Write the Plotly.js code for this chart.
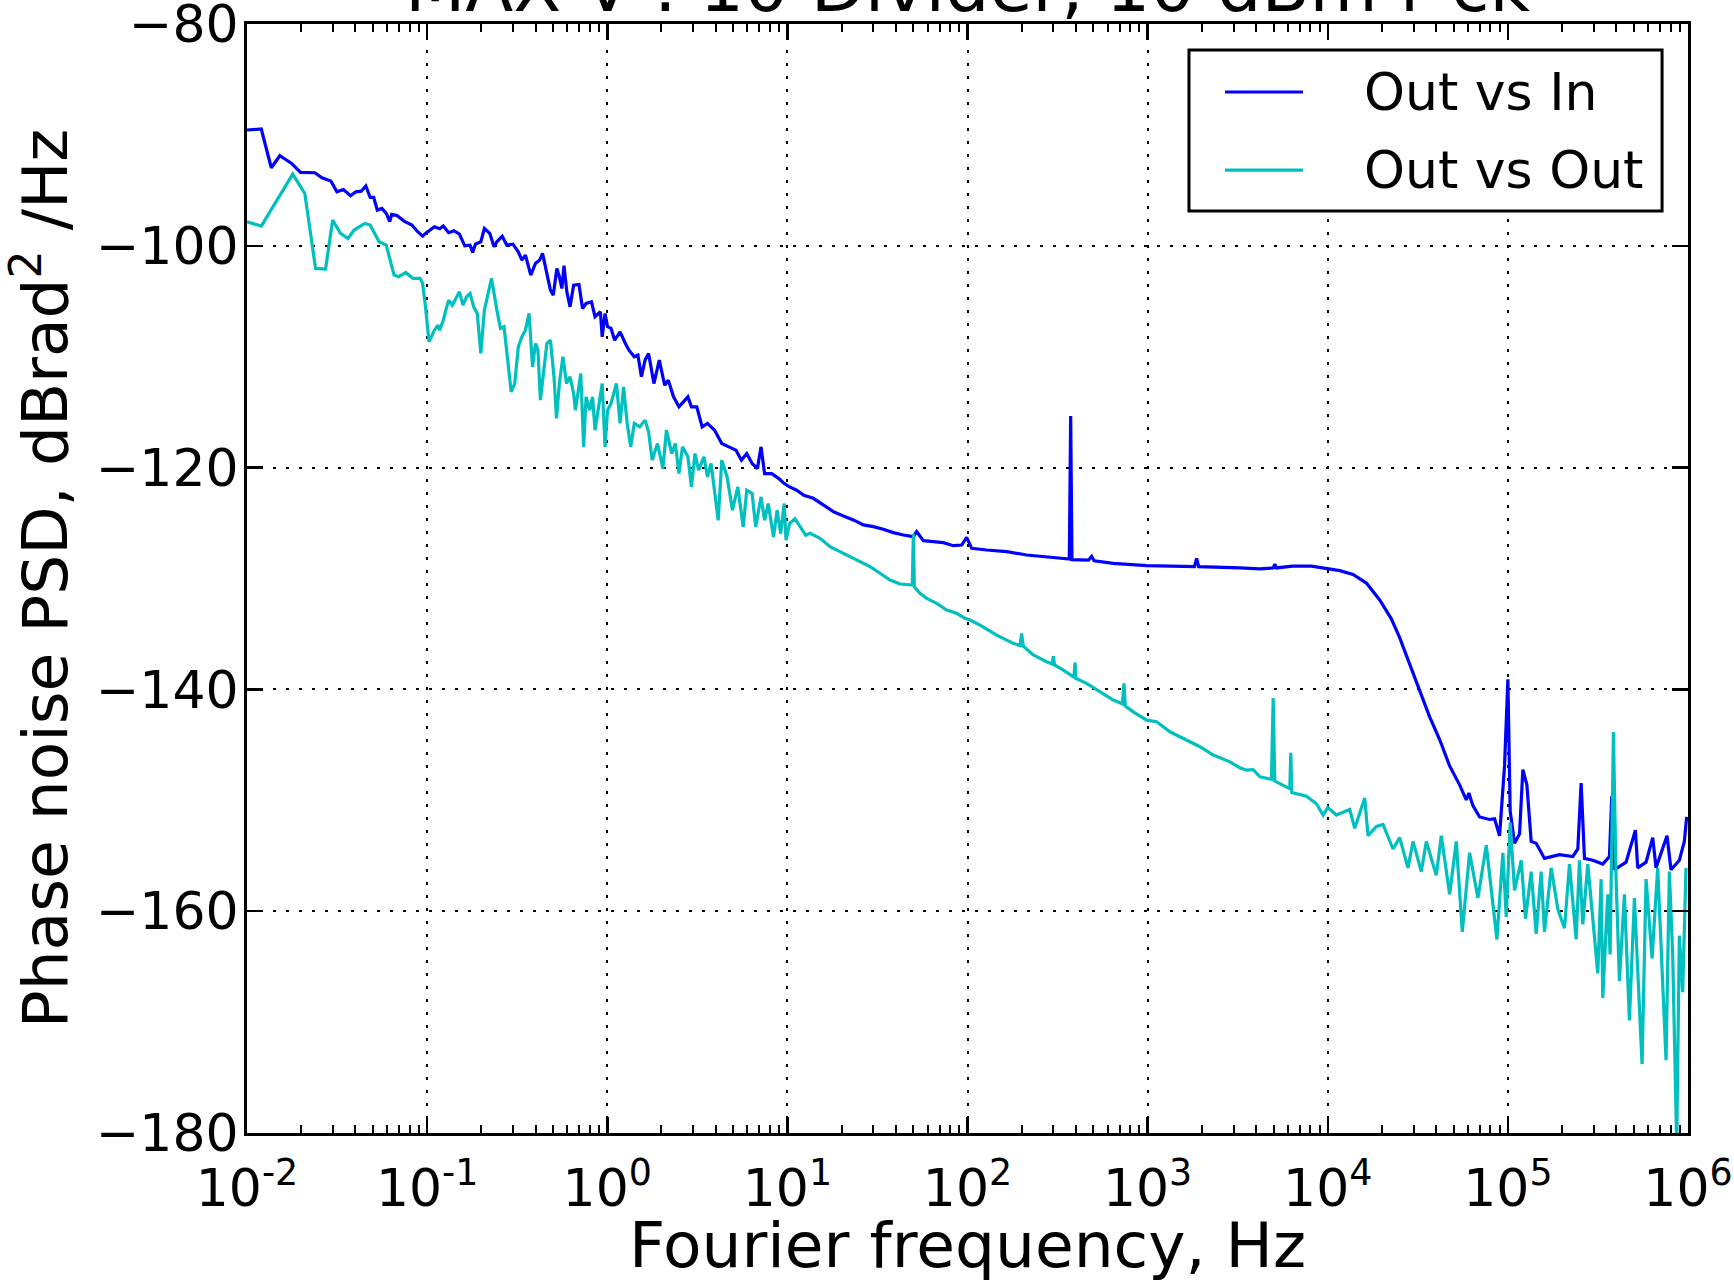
<!DOCTYPE html>
<html>
<head>
<meta charset="utf-8">
<script src="https://cdn.plot.ly/plotly-3.0.1.min.js"></script>
<style>
  html, body { margin: 0; padding: 0; background: #ffffff; }
  #chart { width: 1734px; height: 1282px; }
</style>
</head>
<body>
<div id="chart"></div>
<script>
// ---------------- data ----------------
var titleText = "MAX V : 10 Divider, 10 dBm r ck";
var xLabel = "Fourier frequency, Hz";
var yLabel = "Phase noise PSD, dBrad<sup>2</sup> /Hz";
var seriesNames = ["Out vs In", "Out vs Out"];
var seriesColors = ["rgb(0,0,255)", "rgb(0,191,191)"];

var xTickVals = [0.01, 0.1, 1, 10, 100, 1000, 10000, 100000, 1000000];
var xTickText = ["10<sup>-2</sup>", "10<sup>-1</sup>", "10<sup>0</sup>", "10<sup>1</sup>",
                 "10<sup>2</sup>", "10<sup>3</sup>", "10<sup>4</sup>", "10<sup>5</sup>", "10<sup>6</sup>"];
var yTickVals = [-180, -160, -140, -120, -100, -80];

// Out vs In (blue)
var inFreq = [
  0.0100, 0.0120, 0.01364, 0.01521, 0.01769, 0.01983, 0.02379, 0.02607, 0.02922, 0.03157,
  0.03428, 0.03756, 0.04022, 0.04308, 0.04570, 0.04829, 0.05054, 0.05289, 0.05612, 0.05928,
  0.06205, 0.06348, 0.06796, 0.07447, 0.08234, 0.08858, 0.09441, 0.09793, 0.1097, 0.1175,
  0.1230, 0.1317, 0.1411, 0.1511, 0.1618, 0.1732, 0.1789, 0.1855, 0.1986, 0.2079,
  0.2227, 0.2352, 0.2439, 0.2612, 0.2772, 0.2995, 0.3208, 0.3357, 0.3514, 0.3763,
  0.3993, 0.4217, 0.4374, 0.4621, 0.4837, 0.5017, 0.5251, 0.5422, 0.5597, 0.5752,
  0.5967, 0.6217, 0.6507, 0.6967, 0.7292, 0.7632, 0.8174, 0.8554, 0.9163, 0.9374,
  0.9721, 1.004, 1.050, 1.099, 1.178, 1.261, 1.320, 1.413, 1.480, 1.548,
  1.621, 1.696, 1.816, 1.945, 2.083, 2.181, 2.334, 2.500, 2.677, 2.803,
  2.934, 3.141, 3.364, 3.602, 3.946, 4.323, 4.736, 5.188, 5.556, 5.950,
  6.372, 6.823, 7.141, 7.475, 8.190, 8.970, 9.607, 10.29, 11.27, 12.35,
  13.94, 15.84, 18.00, 20.46, 23.25, 26.41, 30.01, 34.10, 38.75, 44.03,
  50.03, 52.2, 56.87, 64.62, 73.43, 83.43, 92.82, 98.95, 105.5, 127.8,
  165.0, 213.0, 275.0, 355.2, 367.5, 373.9, 380.2, 470, 489, 505,
  644.9, 987.4, 1820, 1871, 1920, 3251, 4203, 4976, 5083, 5190,
  6370, 8119, 10000, 11656, 13820, 16385, 19432, 22542, 25074, 28492,
  32370, 36784, 41799, 47496, 53951, 58750, 60766, 63960, 69660, 79124,
  84333, 89920, 95830, 100000, 103000, 108900, 116100, 121100, 127500, 134700,
  143600, 159700, 193400, 229300, 244500, 255100, 266200, 296000, 336400, 366300,
  377300, 390400, 453100, 510500, 526000, 585000, 637000, 664700, 764600, 804900,
  895200, 954300, 983100
];
var inPsd = [
  -89.56, -89.47, -92.96, -91.88, -92.57, -93.38, -93.41, -93.86, -94.16, -95.13,
  -94.92, -95.49, -95.13, -95.07, -94.61, -95.64, -95.64, -96.78, -96.63, -97.08,
  -97.83, -97.17, -97.26, -97.77, -98.13, -98.73, -99.13, -98.88, -98.28, -98.46,
  -98.22, -98.82, -98.64, -98.94, -100.0, -99.94, -100.60, -99.85, -99.64, -98.43,
  -98.88, -100.09, -99.64, -99.13, -99.94, -99.85, -100.54, -101.29, -100.84, -102.64,
  -101.59, -101.29, -100.69, -102.64, -104.0, -104.45, -102.04, -102.79, -103.85, -101.80,
  -104.15, -105.50, -103.55, -103.49, -105.65, -105.20, -105.05, -106.40, -105.95, -108.21,
  -106.10, -107.30, -107.45, -108.51, -107.76, -108.81, -109.41, -110.01, -109.86, -111.81,
  -110.31, -109.71, -112.42, -110.31, -112.57, -112.12, -113.62, -114.52, -113.92, -113.62,
  -114.52, -114.52, -116.33, -116.02, -116.63, -117.83, -118.13, -118.43, -119.33, -118.73,
  -119.63, -120.08, -118.13, -120.54, -120.54, -120.99, -121.44, -121.74, -122.04, -122.49,
  -122.77, -123.37, -123.97, -124.36, -124.72, -125.17, -125.32, -125.56, -125.86, -126.08,
  -126.23, -125.77, -126.59, -126.68, -126.77, -127.04, -126.98, -126.29, -127.28, -127.43,
  -127.58, -127.88, -128.03, -128.24, -128.24, -115.34, -128.30, -128.35, -128.0, -128.4,
  -128.63, -128.84, -128.93, -128.18, -128.93, -129.05, -129.14, -129.05, -128.7, -129.05,
  -128.88, -128.88, -129.15, -129.29, -129.63, -130.41, -131.94, -133.64, -135.34, -137.72,
  -140.10, -142.48, -144.52, -146.90, -148.61, -149.97, -149.35, -150.48, -151.50, -151.73,
  -151.67, -153.20, -146.90, -139.08, -150.99, -153.88, -153.03, -147.24, -148.61, -153.71,
  -153.88, -155.24, -154.90, -155.07, -154.39, -148.44, -155.24, -155.41, -155.75, -155.07,
  -149.63, -156.26, -155.58, -152.69, -156.09, -155.58, -153.37, -156.09, -153.20, -156.26,
  -155.41, -153.71, -151.50
];

// Out vs Out (cyan)
var outFreq = [
  0.0100, 0.0120, 0.01794, 0.02094, 0.02402, 0.02729, 0.02989, 0.03305, 0.03637, 0.03931,
  0.04508, 0.04829, 0.05411, 0.05928, 0.06554, 0.06955, 0.07620, 0.08346, 0.09144, 0.09441,
  0.09793, 0.10249, 0.1097, 0.1149, 0.1175, 0.1230, 0.1270, 0.1317, 0.1379, 0.1443,
  0.1511, 0.1581, 0.1655, 0.1732, 0.1813, 0.1898, 0.1986, 0.2079, 0.2227, 0.2278,
  0.2439, 0.2554, 0.2673, 0.2928, 0.3064, 0.3208, 0.3357, 0.3514, 0.3679, 0.3849,
  0.3993, 0.4122, 0.4256, 0.4415, 0.4621, 0.4837, 0.5062, 0.5226, 0.5422, 0.5674,
  0.5939, 0.6217, 0.6507, 0.6655, 0.7129, 0.7393, 0.7632, 0.7989, 0.8287, 0.8554,
  0.8954, 0.9374, 0.9721, 1.004, 1.050, 1.1248, 1.178, 1.2325, 1.2900, 1.3503,
  1.413, 1.5136, 1.621, 1.696, 1.7756, 1.9011, 2.0357, 2.1306, 2.2819, 2.3883,
  2.500, 2.6167, 2.803, 2.934, 3.0693, 3.2130, 3.4411, 3.602, 3.7702, 4.1294,
  4.323, 4.6292, 4.9569, 5.3075, 5.6845, 5.950, 6.372, 6.6681, 7.141, 7.475,
  7.824, 8.3792, 8.7688, 9.1777, 9.607, 9.8288, 10.29, 11.015, 11.796, 12.63,
  13.36, 15.18, 17.25, 19.60, 22.27, 25.31, 28.76, 32.68, 37.13, 42.21,
  47.96, 49.40, 50.04, 50.68, 54.50, 59.35, 67.45, 76.63, 87.08, 96.85,
  103.2, 117.3, 145.2, 179.6, 196, 199.7, 204, 231.9, 275.0, 295,
  299.6, 304, 340.3, 390, 395.2, 400, 458.6, 543.8, 644.9, 725,
  738.9, 752, 832.5, 987.4, 1122, 1330, 1646, 1952, 2315, 2864,
  3251, 3543, 3855, 4203, 4870, 4976, 5083, 6157, 6235, 6314,
  7615, 8652, 9422, 10000, 11170, 13240, 14120, 16040, 16740, 18620,
  20270, 23030, 25074, 27890, 29740, 33070, 35250, 40050, 42690, 47496,
  51700, 55830, 61290, 68180, 75860, 86910, 93830, 97900, 103000, 108900,
  118600, 125300, 134700, 143600, 153000, 159700, 173900, 189400, 206200, 219800,
  239300, 249700, 260500, 277700, 315600, 329300, 336400, 358500, 369400, 385500,
  398800, 416200, 443600, 472800, 504000, 526000, 555800, 585000, 631600, 678800,
  708400, 755100, 788000, 822400, 865400, 895200, 934200, 974800
];
var outPsd = [
  -97.83, -98.22, -93.53, -95.28, -102.04, -102.10, -97.68, -98.88, -99.34, -98.58,
  -97.98, -98.13, -99.64, -99.94, -102.64, -102.79, -102.40, -102.94, -102.94, -103.40,
  -105.50, -108.66, -107.61, -107.15, -107.61, -106.70, -105.80, -104.90, -105.35, -104.75,
  -104.15, -105.35, -104.60, -104.30, -105.50, -106.10, -109.71, -105.80, -103.70, -102.94,
  -105.80, -107.45, -107.30, -113.17, -112.42, -109.11, -108.21, -107.61, -106.10, -110.91,
  -108.81, -109.41, -113.92, -111.51, -108.81, -108.51, -111.81, -115.57, -112.42, -110.01,
  -112.42, -111.81, -113.32, -114.82, -111.51, -118.13, -113.62, -114.82, -113.62, -116.63,
  -114.67, -112.42, -118.13, -114.82, -114.22, -112.42, -116.02, -112.72, -116.02, -118.13,
  -116.02, -116.33, -115.72, -116.78, -119.33, -117.83, -120.08, -116.63, -118.73, -117.83,
  -120.54, -118.13, -119.03, -121.74, -118.73, -120.23, -119.03, -120.84, -119.63, -124.75,
  -119.33, -120.84, -123.84, -121.74, -125.35, -122.04, -122.34, -125.35, -122.64, -124.75,
  -123.24, -126.25, -123.84, -125.95, -123.24, -126.55, -125.05, -124.60, -125.35, -126.10,
  -125.92, -126.38, -127.13, -127.58, -128.03, -128.48, -128.93, -129.53, -130.14, -130.50,
  -130.59, -130.59, -125.98, -130.75, -131.34, -131.79, -132.24, -132.84, -133.14, -133.59,
  -133.74, -134.20, -135.10, -135.85, -136.05, -134.95, -136.10, -136.90, -137.50, -137.70,
  -137.00, -137.80, -138.26, -138.90, -137.59, -139.01, -139.46, -140.21, -140.96, -141.30,
  -139.46, -141.50, -142.02, -142.77, -142.92, -143.82, -144.57, -145.17, -145.92, -146.53,
  -147.07, -147.28, -147.24, -147.88, -148.10, -140.78, -148.27, -148.95, -145.71, -149.29,
  -149.63, -150.31, -151.33, -150.65, -151.33, -150.82, -152.52, -149.80, -153.20, -152.35,
  -152.18, -154.39, -153.37, -156.09, -153.71, -156.43, -153.71, -156.77, -153.20, -158.47,
  -153.71, -161.87, -154.73, -158.81, -154.05, -162.55, -154.73, -160.51, -152.01, -158.13,
  -155.41, -160.68, -156.43, -162.04, -156.43, -161.87, -156.09, -159.83, -161.53, -155.75,
  -162.55, -155.41, -161.19, -155.75, -165.61, -157.11, -167.82, -158.47, -163.91, -143.84,
  -157.11, -166.29, -158.47, -169.86, -158.81, -165.95, -173.78, -157.11, -164.25, -156.09,
  -163.23, -173.44, -156.43, -163.91, -181.0, -162.21, -167.31, -156.09
];

// ---------------- chart ----------------
var FONT = "DejaVu Sans, Liberation Sans, sans-serif";

var minorVals = [];
for (var e = -2; e < 6; e++) {
  for (var m = 2; m <= 9; m++) minorVals.push(m * Math.pow(10, e));
}

var traces = [
  { x: inFreq, y: inPsd, type: "scatter", mode: "lines", name: seriesNames[0],
    line: { color: seriesColors[0], width: 3.2 } },
  { x: outFreq, y: outPsd, type: "scatter", mode: "lines", name: seriesNames[1],
    line: { color: seriesColors[1], width: 3.2 } }
];

var axisCommon = {
  showline: true, linecolor: "#000", linewidth: 3, mirror: "allticks",
  ticks: "inside", ticklen: 16, tickwidth: 2.5, tickcolor: "#000",
  showgrid: true, gridcolor: "#000", gridwidth: 2, griddash: "3px,10px",
  zeroline: false, ticklabeloverflow: "allow",
  tickfont: { family: FONT, size: 52, color: "#000" }
};

// legend box, drawn in the paper frame of the plot area (top-right corner)
var lg = { x0: 0.6537, x1: 0.9820, y0: 0.8313, y1: 0.9765,
           lx0: 0.6787, lx1: 0.7328, tx: 0.7738, rows: [0.9387, 0.8683] };

var shapes = [
  { type: "rect", xref: "paper", yref: "paper", x0: lg.x0, x1: lg.x1, y0: lg.y0, y1: lg.y1,
    line: { color: "#000", width: 3 }, fillcolor: "#fff", layer: "above" }
];
var annotations = [];
for (var i = 0; i < seriesNames.length; i++) {
  shapes.push({ type: "line", xref: "paper", yref: "paper",
    x0: lg.lx0, x1: lg.lx1, y0: lg.rows[i], y1: lg.rows[i],
    line: { color: seriesColors[i], width: 3.2 }, layer: "above" });
  annotations.push({ xref: "paper", yref: "paper", x: lg.tx, y: lg.rows[i],
    xanchor: "left", yanchor: "middle", showarrow: false, text: seriesNames[i],
    font: { family: FONT, size: 52, color: "#000" } });
}

var layout = {
  width: 1734, height: 1282,
  margin: { l: 247, r: 46, t: 24, b: 149, pad: 0 },
  paper_bgcolor: "#fff", plot_bgcolor: "#fff",
  font: { family: FONT, color: "#000" },
  showlegend: false,
  title: { text: titleText, font: { family: FONT, size: 70, color: "#000" },
           xref: "paper", x: 0.5, xanchor: "center",
           yref: "container", y: 0.9914, yanchor: "bottom" },
  xaxis: Object.assign({}, axisCommon, {
    type: "log", range: [-2, 6], autorange: false,
    tickmode: "array", tickvals: xTickVals, ticktext: xTickText,
    ticklabelstandoff: 8,
    minor: { tickmode: "array", tickvals: minorVals, ticks: "inside",
             ticklen: 8, tickwidth: 2, tickcolor: "#000", showgrid: false },
    title: { text: xLabel, font: { family: FONT, size: 63, color: "#000" }, standoff: 4 }
  }),
  yaxis: Object.assign({}, axisCommon, {
    range: [-180, -80], autorange: false,
    tickmode: "array", tickvals: yTickVals,
    ticklabelstandoff: -5,
    title: { text: yLabel, font: { family: FONT, size: 63, color: "#000" }, standoff: 27 }
  }),
  shapes: shapes,
  annotations: annotations
};

Plotly.newPlot("chart", traces, layout, { displayModeBar: false, staticPlot: true });
</script>
</body>
</html>
